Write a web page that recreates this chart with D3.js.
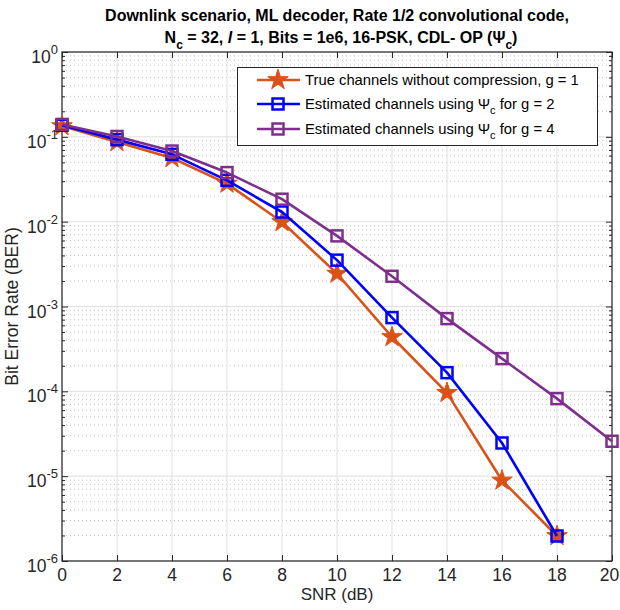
<!DOCTYPE html>
<html>
<head>
<meta charset="utf-8">
<script src="https://cdn.jsdelivr.net/npm/d3@7"></script>
<style>
  body { margin: 0; background: #fff; }
  svg { font-family: "Liberation Sans", Arial, Helvetica, sans-serif; }
</style>
</head>
<body>
<div id="chart"></div>
<script>
// SNR points (dB)
const snrShort = [0, 2, 4, 6, 8, 10, 12, 14, 16, 18];
const snrLong = [0, 2, 4, 6, 8, 10, 12, 14, 16, 18, 20];

// BER values
const berTrue = [0.134, 0.087, 0.0563, 0.0281, 0.0099, 0.00244, 4.37e-4, 9.6e-5, 8.9e-6, 1.97e-6];
const berG2 = [0.137, 0.0927, 0.0622, 0.0307, 0.013, 0.00352, 7.4e-4, 1.66e-4, 2.46e-5, 1.97e-6];
const berG4 = [0.14, 0.101, 0.068, 0.0379, 0.0184, 0.0068, 0.00227, 7.2e-4, 2.43e-4, 8.2e-5, 2.58e-5];

const xTicks = [0, 2, 4, 6, 8, 10, 12, 14, 16, 18, 20];
const yExps = [0, -1, -2, -3, -4, -5, -6];

const legendLabels = [
  'True channels without compression, g = 1',
  'Estimated channels using Ψ|c| for g = 2',
  'Estimated channels using Ψ|c| for g = 4',
];

const series = [
  { x: snrShort, y: berTrue, color: '#D95319', marker: 'star', label: legendLabels[0] },
  { x: snrShort, y: berG2, color: '#0000FF', marker: 'square', label: legendLabels[1] },
  { x: snrLong, y: berG4, color: '#7E2F8E', marker: 'square', label: legendLabels[2] },
];

const width = 620;
const height = 610;
const margin = { left: 62, right: 8, top: 52, bottom: 49 };

const svg = d3.select('#chart').append('svg')
  .attr('width', width)
  .attr('height', height);

const x = d3.scaleLinear().domain([0, 20]).range([margin.left, width - margin.right]);
const y = d3.scaleLog().domain([1e-6, 1]).range([height - margin.bottom, margin.top]);

const x0 = x.range()[0], x1 = x.range()[1];
const y0 = y.range()[0], y1 = y.range()[1];

// grid
const grid = svg.append('g');
const minorVals = [];
yExps.slice(0, -1).forEach(e => {
  for (let k = 2; k <= 9; k++) minorVals.push(k * Math.pow(10, e - 1));
});
grid.selectAll('.minor').data(minorVals).enter().append('line')
  .attr('x1', x0).attr('x2', x1)
  .attr('y1', d => y(d)).attr('y2', d => y(d))
  .attr('stroke', '#c4c4c4').attr('stroke-width', 1)
  .attr('stroke-dasharray', '1,3');
grid.selectAll('.majorY').data(yExps.map(e => Math.pow(10, e))).enter().append('line')
  .attr('x1', x0).attr('x2', x1)
  .attr('y1', d => y(d)).attr('y2', d => y(d))
  .attr('stroke', '#dfdfdf').attr('stroke-width', 1);
grid.selectAll('.majorX').data(xTicks).enter().append('line')
  .attr('x1', d => x(d)).attr('x2', d => x(d))
  .attr('y1', y0).attr('y2', y1)
  .attr('stroke', '#dfdfdf').attr('stroke-width', 1);

// axes (ticks inward, box on)
const axisColor = '#262626';
function styleAxis(g) {
  g.select('.domain').remove();
  g.selectAll('line').attr('stroke', axisColor);
  g.selectAll('text').remove();
}
const majorY = yExps.map(e => Math.pow(10, e));
svg.append('g').attr('transform', `translate(${x0},0)`)
  .call(d3.axisLeft(y).tickValues(majorY).tickSize(-6)).call(styleAxis);
svg.append('g').attr('transform', `translate(${x0},0)`)
  .call(d3.axisLeft(y).tickValues(minorVals).tickSize(-3)).call(styleAxis);
svg.append('g').attr('transform', `translate(${x1},0)`)
  .call(d3.axisRight(y).tickValues(majorY).tickSize(-6)).call(styleAxis);
svg.append('g').attr('transform', `translate(${x1},0)`)
  .call(d3.axisRight(y).tickValues(minorVals).tickSize(-3)).call(styleAxis);
svg.append('g').attr('transform', `translate(0,${y0})`)
  .call(d3.axisBottom(x).tickValues(xTicks).tickSize(-6)).call(styleAxis);
svg.append('g').attr('transform', `translate(0,${y1})`)
  .call(d3.axisTop(x).tickValues(xTicks).tickSize(-6)).call(styleAxis);

svg.append('rect')
  .attr('x', x0).attr('y', y1)
  .attr('width', x1 - x0).attr('height', y0 - y1)
  .attr('fill', 'none').attr('stroke', axisColor).attr('stroke-width', 1.2);

// tick labels
const tickFont = 17.5;
svg.append('g').selectAll('text').data(xTicks).enter().append('text')
  .attr('x', d => Math.min(x(d), width - 10.5)).attr('y', y0 + 20)
  .attr('text-anchor', 'middle').attr('font-size', tickFont).attr('fill', axisColor)
  .text(d => d);

const yl = svg.append('g').selectAll('text').data(yExps).enter().append('text')
  .attr('x', x0 - 4).attr('y', d => y(Math.pow(10, d)) + 11)
  .attr('text-anchor', 'end').attr('font-size', tickFont).attr('fill', axisColor);
yl.append('tspan').text('10');
yl.append('tspan').attr('dy', -9).attr('font-size', 13).text(d => d === 0 ? '0' : '-' + Math.abs(d));

// series
const line = d3.line().x(d => x(d[0])).y(d => y(d[1]));
const star = d3.symbol().type(d3.symbolStar).size(130);

function drawMarker(g, kind, color) {
  if (kind === 'star') {
    g.append('path').attr('d', star())
      .attr('fill', color).attr('stroke', color).attr('stroke-width', 1);
  } else {
    g.append('rect').attr('x', -5.5).attr('y', -5.5).attr('width', 11).attr('height', 11)
      .attr('fill', 'none').attr('stroke', color).attr('stroke-width', 2.5);
  }
}

series.forEach(s => {
  const pts = s.x.map((v, i) => [v, s.y[i]]);
  const g = svg.append('g');
  g.append('path').datum(pts).attr('d', line)
    .attr('fill', 'none').attr('stroke', s.color).attr('stroke-width', 2.6)
    .attr('stroke-linejoin', 'round');
  g.selectAll('.m').data(pts).enter().append('g')
    .attr('transform', d => `translate(${x(d[0])},${y(d[1])})`)
    .each(function () { drawMarker(d3.select(this), s.marker, s.color); });
});

// legend
const legendRows = [80, 104, 129];
const lg = svg.append('g');
lg.append('rect').attr('x', 237.5).attr('y', 67.5).attr('width', 360).attr('height', 78)
  .attr('fill', '#fff').attr('stroke', axisColor).attr('stroke-width', 1);
series.forEach((s, i) => {
  const cy = legendRows[i];
  lg.append('line').attr('x1', 257).attr('x2', 300).attr('y1', cy).attr('y2', cy)
    .attr('stroke', s.color).attr('stroke-width', 2.6);
  drawMarker(lg.append('g').attr('transform', `translate(278,${cy})`), s.marker, s.color);
  const t = lg.append('text').attr('x', 305).attr('y', cy + 5)
    .attr('font-size', 14.8).attr('fill', '#000');
  const parts = s.label.split('|');
  t.append('tspan').text(parts[0]);
  if (parts.length > 1) {
    t.append('tspan').attr('dy', 5).attr('font-size', 11).text(parts[1]);
    t.append('tspan').attr('dy', -5).text(parts[2]);
  }
});

// title
const title = svg.append('g').attr('font-weight', 'bold').attr('font-size', 16)
  .attr('text-anchor', 'middle').attr('fill', '#000');
title.append('text').attr('x', (x0 + x1) / 2).attr('y', 21)
  .text('Downlink scenario, ML decoder, Rate 1/2 convolutional code,');
const t2 = title.append('text').attr('x', (x0 + x1) / 2 + 4).attr('y', 43);
t2.append('tspan').text('N');
t2.append('tspan').attr('dy', 6).attr('font-size', 12).text('c');
t2.append('tspan').attr('dy', -6).text(' = 32, ');
t2.append('tspan').attr('font-style', 'italic').text('l');
t2.append('tspan').text(' = 1, Bits = 1e6, 16-PSK, CDL- OP (Ψ');
t2.append('tspan').attr('dy', 6).attr('font-size', 12).text('c');
t2.append('tspan').attr('dy', -6).text(')');

// axis labels
svg.append('text').attr('x', (x0 + x1) / 2).attr('y', 600)
  .attr('text-anchor', 'middle').attr('font-size', 17).attr('fill', axisColor)
  .text('SNR (dB)');
svg.append('text')
  .attr('transform', `translate(18,${(y0 + y1) / 2}) rotate(-90)`)
  .attr('text-anchor', 'middle').attr('font-size', 17.5).attr('fill', axisColor)
  .text('Bit Error Rate (BER)');
</script>
</body>
</html>
